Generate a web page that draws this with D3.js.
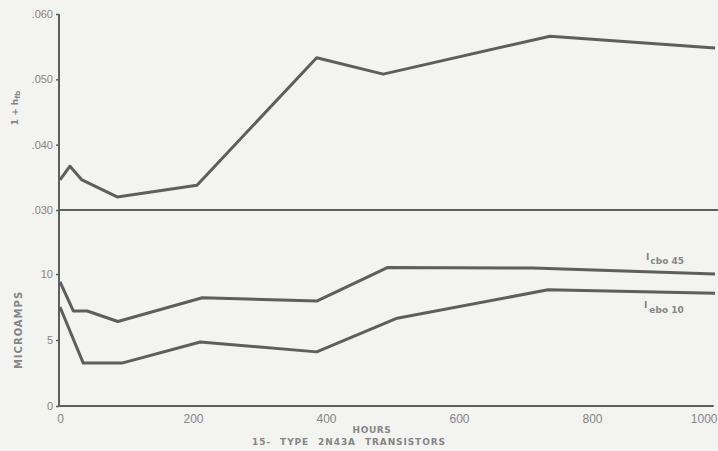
<!DOCTYPE html>
<html>
<head>
<meta charset="utf-8">
<script src="https://cdn.jsdelivr.net/npm/d3@7"></script>
<style>
  body { margin: 0; background: #f3f3f2; }
  svg { display: block; font-family: 'DejaVu Sans', sans-serif; }
</style>
</head>
<body>
<svg id="chart"></svg>
<script>
// * data (hours vs value)
const hfbHours = [0, 15, 33, 86, 206, 386, 486, 737, 985];
const hfbValues = [0.0346, 0.0367, 0.0346, 0.0320, 0.0338, 0.0533, 0.0508, 0.0566, 0.0548];

const icboHours = [0, 20, 41, 87, 214, 386, 493, 711, 985];
const icboValues = [9.4, 7.2, 7.2, 6.4, 8.2, 7.95, 10.5, 10.45, 10.0];

const ieboHours = [0, 35, 93, 211, 386, 507, 734, 985];
const ieboValues = [7.5, 3.25, 3.25, 4.85, 4.1, 6.65, 8.8, 8.55];

const hourTicks = [0, 200, 400, 600, 800, 1000];
const hfbTicks = [0.030, 0.040, 0.050, 0.060];
const ampTicks = [0, 5, 10];

const width = 718;
const height = 451;
const ink = '#5e5e5e';
const textInk = '#858585';

const svg = d3.select('#chart')
  .attr('width', width)
  .attr('height', height);

// scales
const x = d3.scaleLinear().domain([0, 1000]).range([60, 725]);
const yTop = d3.scaleLinear().domain([0.030, 0.060]).range([210, 14]);
const yBot = d3.scaleLinear().domain([0, 10]).range([406, 274]);

const zip = (hs, vs) => hs.map((h, i) => ({ h, v: vs[i] }));

// axes
const topAxis = d3.axisLeft(yTop)
  .tickValues(hfbTicks)
  .tickSize(3).tickSizeOuter(0).tickPadding(3)
  .tickFormat((d) => d3.format('.3f')(d).replace(/^0/, ''));
const botAxis = d3.axisLeft(yBot)
  .tickValues(ampTicks)
  .tickSize(3).tickSizeOuter(0).tickPadding(3);
const xAxis = d3.axisBottom(x)
  .tickValues(hourTicks)
  .tickFormat(d3.format('d'))
  .tickSize(0).tickPadding(8);

const gTop = svg.append('g').attr('transform', 'translate(59,0)').call(topAxis);
const gBot = svg.append('g').attr('transform', 'translate(59,0)').call(botAxis);
const gX = svg.append('g').attr('transform', `translate(0,${yBot(0)})`).call(xAxis);

[gTop, gBot, gX].forEach((g) => {
  g.select('.domain').remove();
  g.selectAll('.tick line').attr('stroke', ink).attr('stroke-width', 1.5);
  g.selectAll('.tick text').attr('fill', textInk);
});
gTop.selectAll('.tick text').attr('font-size', 11);
gBot.selectAll('.tick text').attr('font-size', 11);
gX.selectAll('.tick text').attr('font-size', 12);
// last hour label sits inside the frame
gX.selectAll('.tick text').filter((d) => d === 1000)
  .attr('text-anchor', 'end')
  .attr('x', width - 1 - x(1000));

// frame lines
svg.append('line')
  .attr('x1', 59).attr('x2', 59)
  .attr('y1', yTop(0.060)).attr('y2', yBot(0))
  .attr('stroke', ink).attr('stroke-width', 2);
svg.append('line')
  .attr('x1', 59).attr('x2', width)
  .attr('y1', yTop(0.030)).attr('y2', yTop(0.030))
  .attr('stroke', ink).attr('stroke-width', 2);
svg.append('line')
  .attr('x1', 59).attr('x2', x(983))
  .attr('y1', yBot(0)).attr('y2', yBot(0))
  .attr('stroke', ink).attr('stroke-width', 2);

// series
const lineTop = d3.line().x((d) => x(d.h)).y((d) => yTop(d.v));
const lineBot = d3.line().x((d) => x(d.h)).y((d) => yBot(d.v));

svg.append('path')
  .datum(zip(hfbHours, hfbValues))
  .attr('d', lineTop)
  .attr('fill', 'none').attr('stroke', ink).attr('stroke-width', 3)
  .attr('stroke-linejoin', 'round');

[zip(icboHours, icboValues), zip(ieboHours, ieboValues)].forEach((s) => {
  svg.append('path')
    .datum(s)
    .attr('d', lineBot)
    .attr('fill', 'none').attr('stroke', ink).attr('stroke-width', 3)
    .attr('stroke-linejoin', 'round');
});

// labels
const label = (tx, ty, rot) => svg.append('text')
  .attr('transform', `translate(${tx},${ty}) rotate(${rot})`)
  .attr('text-anchor', 'middle')
  .attr('fill', textInk)
  .attr('font-weight', 'bold');

const hfbLabel = label(18, 108, -90).attr('font-size', 9);
hfbLabel.append('tspan').text('1 + h');
hfbLabel.append('tspan').attr('font-size', 7).attr('dy', 2).text('fb');

label(22, 330, -90).attr('font-size', 10).attr('letter-spacing', 1).text('MICROAMPS');

label(372, 433, 0).attr('font-size', 9).attr('letter-spacing', 0.6).text('HOURS');
label(349, 445, 0).attr('font-size', 9).attr('letter-spacing', 0.9)
  .attr('word-spacing', 5).text('15- TYPE 2N43A TRANSISTORS');

const icboLabel = svg.append('text')
  .attr('x', 646).attr('y', 260)
  .attr('fill', textInk).attr('font-weight', 'bold').attr('font-size', 9);
icboLabel.append('tspan').text('I');
icboLabel.append('tspan').attr('dy', 4).attr('dx', 1).text('cbo 45');

const ieboLabel = svg.append('text')
  .attr('x', 644).attr('y', 308)
  .attr('fill', textInk).attr('font-weight', 'bold').attr('font-size', 9);
ieboLabel.append('tspan').text('I');
ieboLabel.append('tspan').attr('dy', 5).attr('dx', 2).text('ebo 10');
</script>
</body>
</html>
